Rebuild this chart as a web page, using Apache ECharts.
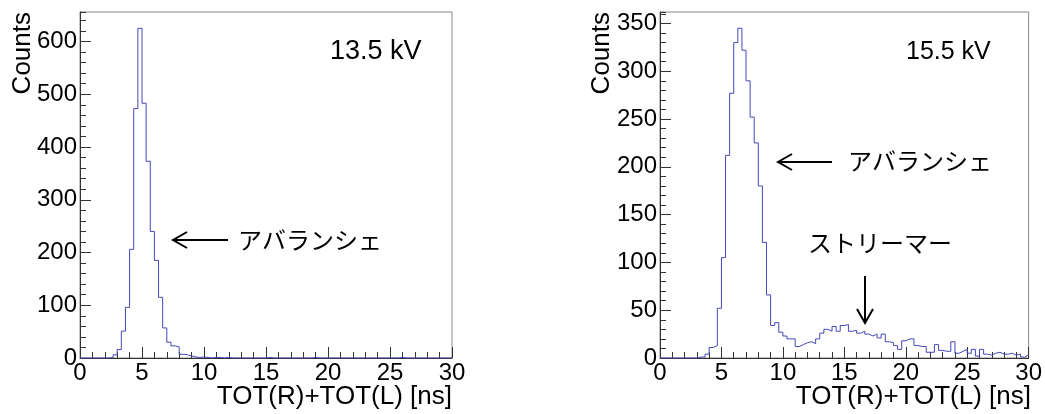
<!DOCTYPE html>
<html>
<head>
<meta charset="utf-8">
<script src="https://cdn.jsdelivr.net/npm/echarts@6/dist/echarts.min.js"></script>
<style>
html,body{margin:0;padding:0;background:#fff;}
#c{width:1045px;height:414px;}
</style>
</head>
<body>
<div id="c"></div>
<script>
// Histogram: 90 bins of 1/3 ns between 0 and 30 ns
const xMin = 0, xMax = 30, nBins = 90;
const xTickLabels = ['0','5','10','15','20','25','30'];

// 13.5 kV counts per bin
const counts135 = [
  0,0,0,0,0,0,0,1,6,16,
  51,96,206,473,625,483,373,240,185,115,
  57,30,23,21,7,6,4,2,1,2,
  1,0,1,1,0,1,0,0,0,0,
  0,0,0,0,0,1,0,0,0,0,
  0,0,0,0,0,0,1,0,0,0,
  0,0,0,0,0,0,0,0,0,0,
  0,0,0,0,0,0,0,1,0,0,
  0,0,0,0,0,0,0,0,0,0
];

// 15.5 kV counts per bin
const counts155 = [
  0,0,0,0,0,0,0,0,0,1,
  1,4,11,13,52,105,212,277,330,345,
  322,290,252,225,180,121,66,34,37,27,
  23,20,20,12,14,16,17,15,20,26,
  30,28,33,28,34,35,28,29,26,28,
  25,23,25,21,25,17,16,13,9,18,
  20,20,13,12,12,6,6,14,8,7,
  7,17,5,7,9,5,9,2,9,4,
  3,5,6,4,4,5,3,4,1,3
];

const yMax135 = 656, yMax155 = 362;
const labels = {
  xTitle: 'TOT(R)+TOT(L) [ns]',
  yTitle: 'Counts',
  v1: '13.5 kV',
  v2: '15.5 kV',
  aval: 'アバランシェ',
  streamer: 'ストリーマー'
};

function stepData(arr){
  const w = (xMax - xMin) / nBins;
  const d = arr.map((v,i)=>[xMin + i*w, v]);
  d.push([xMax, arr[arr.length-1]]);
  return d;
}

const LAT = '"Liberation Sans", Arial, Helvetica, sans-serif';
const JP = '"Noto Sans CJK JP", sans-serif';
const axisCol = '#333';

function xAxisCfg(gi){
  return {
    type:'value', gridIndex:gi, min:xMin, max:xMax, interval:5,
    axisLine:{show:true, lineStyle:{color:axisCol, width:1}},
    axisTick:{show:true, inside:true, length:11, lineStyle:{color:axisCol}},
    minorTick:{show:true, splitNumber:5, length:6, lineStyle:{color:axisCol}},
    splitLine:{show:false},
    axisLabel:{show:true, margin:3, fontFamily:LAT, fontSize:24, color:'#000',
      formatter:(v)=>{ const s=String(Math.round(v)); return xTickLabels.includes(s)?s:''; }}
  };
}
function yMajor(gi, max, interval){
  return {
    type:'value', gridIndex:gi, min:0, max:max, interval:interval, position:'left',
    axisLine:{show:true, onZero:false, lineStyle:{color:axisCol, width:1}},
    axisTick:{show:true, inside:true, length:11, lineStyle:{color:axisCol}},
    splitLine:{show:false},
    axisLabel:{show:true, margin:3, fontFamily:LAT, fontSize:24, color:'#000', showMaxLabel:false}
  };
}
function yMinor(gi, max, interval){
  return {
    type:'value', gridIndex:gi, min:0, max:max, interval:interval, position:'left', offset:0,
    axisLine:{show:false, onZero:false},
    axisTick:{show:true, inside:true, length:6, lineStyle:{color:axisCol}},
    splitLine:{show:false},
    axisLabel:{show:false}
  };
}

const histCol = '#4646bc';

function arrowH(tipX, y, tailX){
  return [
    {type:'line', shape:{x1:tipX, y1:y, x2:tailX, y2:y}, style:{stroke:'#000', lineWidth:2}},
    {type:'polyline', shape:{points:[[tipX+14,y-8],[tipX,y],[tipX+14,y+8]]}, style:{stroke:'#000', lineWidth:2, fill:null}}
  ];
}
function arrowV(x, topY, tipY){
  return [
    {type:'line', shape:{x1:x, y1:topY, x2:x, y2:tipY}, style:{stroke:'#000', lineWidth:2}},
    {type:'polyline', shape:{points:[[x-8,tipY-14],[x,tipY],[x+8,tipY-14]]}, style:{stroke:'#000', lineWidth:2, fill:null}}
  ];
}
function txt(t, x, y, font, align){
  return {type:'text', x:x, y:y, style:{text:t, font:font, fill:'#000', textAlign:align||'left', textVerticalAlign:'middle'}};
}
function vtxt(t, x, y){
  return {type:'text', x:x, y:y, rotation:Math.PI/2, style:{text:t, font:'26px '+LAT, fill:'#000', textAlign:'right', textVerticalAlign:'middle'}};
}

const chart = echarts.init(document.getElementById('c'), null, {renderer:'canvas'});
chart.setOption({
  animation:false,
  backgroundColor:'#fff',
  grid:[
    {left:80, top:12, width:372, height:346, show:true, borderColor:'#888', borderWidth:1, backgroundColor:'transparent'},
    {left:660, top:12, width:371, height:346, show:true, borderColor:'#888', borderWidth:1, backgroundColor:'transparent'}
  ],
  xAxis:[xAxisCfg(0), xAxisCfg(1)],
  yAxis:[yMajor(0,yMax135,100), yMinor(0,yMax135,20), yMajor(1,yMax155,50), yMinor(1,yMax155,10)],
  series:[
    {type:'line', xAxisIndex:0, yAxisIndex:0, data:stepData(counts135), step:'end', symbol:'none',
      lineStyle:{color:histCol, width:1}, clip:true},
    {type:'line', xAxisIndex:1, yAxisIndex:2, data:stepData(counts155), step:'end', symbol:'none',
      lineStyle:{color:histCol, width:1}, clip:true}
  ],
  graphic:[].concat(
    [vtxt(labels.yTitle, 23, 12), vtxt(labels.yTitle, 602, 12)],
    [txt(labels.xTitle, 452, 397, '26px '+LAT, 'right'), txt(labels.xTitle, 1031, 397, '26px '+LAT, 'right')],
    [txt(labels.v1, 330, 52, '27px '+LAT), txt(labels.v2, 906, 52, '25px '+LAT)],
    arrowH(173, 240, 228),
    [txt(labels.aval, 238, 240, '24px '+JP)],
    arrowH(778, 162, 832),
    [txt(labels.aval, 848, 161, '24px '+JP)],
    [txt(labels.streamer, 808, 243, '24px '+JP)],
    arrowV(865, 276, 323)
  )
});
</script>
</body>
</html>
